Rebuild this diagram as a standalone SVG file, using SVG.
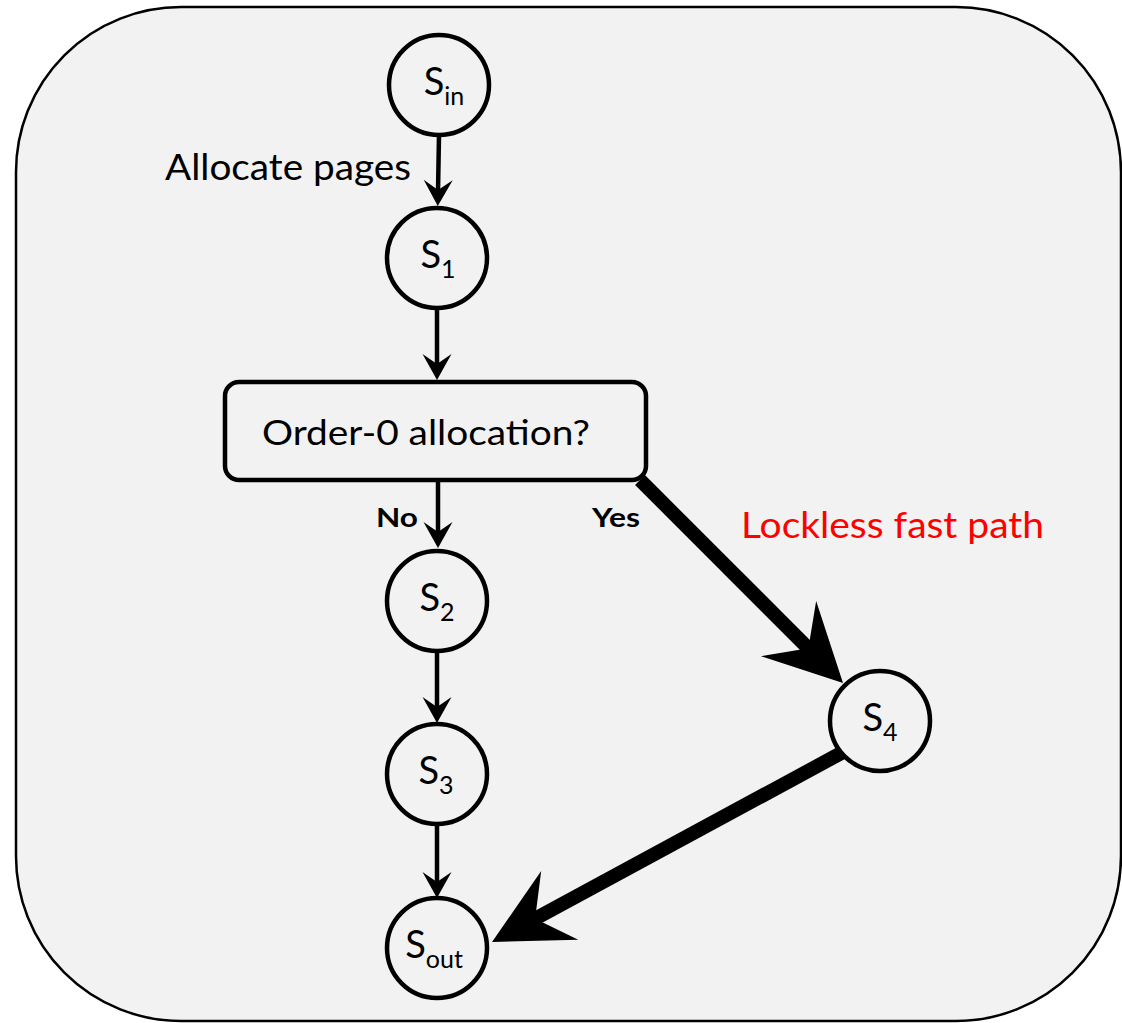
<svg xmlns="http://www.w3.org/2000/svg" width="1122" height="1023" viewBox="0 0 1122 1023">
  <style>
    .frame { fill: #f2f2f2; stroke: #000; stroke-width: 2.5; }
    .state { fill: #f2f2f2; stroke: #000; stroke-width: 4.5; }
    .edge { stroke: #000; stroke-width: 4.5; fill: none; }
    .fast { stroke: #000; stroke-width: 14; fill: none; }
    .lbl { font-family: Lato, "Open Sans", "Liberation Sans", sans-serif; fill: #000; }
    .sname { font-size: 38px; text-anchor: middle; }
    .sub { font-size: 25px; }
    .bold { font-weight: bold; font-size: 26px; }
  </style>
  <defs>
    <marker id="head" markerUnits="userSpaceOnUse" markerWidth="40" markerHeight="40"
            refX="-14" refY="0" orient="auto" overflow="visible" viewBox="-30 -20 40 40">
      <path d="M0,0 L-26,-14.5 L-16,0 L-26,14.5 Z" fill="#000"/>
    </marker>
    <marker id="bighead" markerUnits="userSpaceOnUse" markerWidth="100" markerHeight="100"
            refX="-45" refY="0" orient="auto" overflow="visible" viewBox="-90 -50 100 100">
      <path d="M0,0 L-77,-39 L-49,0 L-77,39 Z" fill="#000"/>
    </marker>
  </defs>

  <!-- enclosing frame -->
  <rect class="frame" x="16" y="7" width="1105" height="1014" rx="165" ry="165"/>

  <!-- connectors -->
  <g id="connectors">
    <line class="edge" x1="439" y1="135" x2="438" y2="192" marker-end="url(#head)"/>
    <line class="edge" x1="437" y1="308" x2="437" y2="366" marker-end="url(#head)"/>
    <line class="edge" x1="438" y1="480" x2="438" y2="534" marker-end="url(#head)"/>
    <line class="edge" x1="437" y1="651" x2="437" y2="709" marker-end="url(#head)"/>
    <line class="edge" x1="437" y1="825" x2="437" y2="884" marker-end="url(#head)"/>
    <line class="fast" x1="640" y1="480" x2="811.2" y2="651.2" marker-end="url(#bighead)"/>
    <line class="fast" x1="845" y1="751" x2="531.6" y2="920.6" marker-end="url(#bighead)"/>
  </g>

  <!-- edge labels -->
  <text class="lbl" x="165" y="180" font-size="37" textLength="246" lengthAdjust="spacingAndGlyphs">Allocate pages</text>
  <text class="lbl bold" x="376" y="527" textLength="42" lengthAdjust="spacingAndGlyphs">No</text>
  <text class="lbl bold" x="592" y="527" textLength="48" lengthAdjust="spacingAndGlyphs">Yes</text>
  <text class="lbl" x="741" y="538" font-size="37" fill="#ff0000" style="fill:#ff0000" textLength="303" lengthAdjust="spacingAndGlyphs">Lockless fast path</text>

  <!-- nodes -->
  <g id="s_in">
    <circle class="state" cx="439" cy="85" r="50"/>
    <text class="lbl sname" x="444" y="95">S<tspan class="sub" dy="10">in</tspan></text>
  </g>
  <g id="s1">
    <circle class="state" cx="437" cy="258" r="50"/>
    <text class="lbl sname" x="438" y="268">S<tspan class="sub" dy="10">1</tspan></text>
  </g>
  <g id="order0">
    <rect class="state" x="225" y="382" width="421" height="98" rx="14" ry="14"/>
    <text class="lbl" x="262" y="445" font-size="35" textLength="328" lengthAdjust="spacingAndGlyphs">Order-0 allocation?</text>
  </g>
  <g id="s2">
    <circle class="state" cx="437" cy="601" r="50"/>
    <text class="lbl sname" x="437" y="611">S<tspan class="sub" dy="10">2</tspan></text>
  </g>
  <g id="s3">
    <circle class="state" cx="437" cy="774" r="50"/>
    <text class="lbl sname" x="436" y="784">S<tspan class="sub" dy="10">3</tspan></text>
  </g>
  <g id="s4">
    <circle class="state" cx="880" cy="721" r="50"/>
    <text class="lbl sname" x="880" y="731">S<tspan class="sub" dy="10">4</tspan></text>
  </g>
  <g id="s_out">
    <circle class="state" cx="437" cy="948" r="50"/>
    <text class="lbl sname" x="434" y="958">S<tspan class="sub" dy="10">out</tspan></text>
  </g>
</svg>
